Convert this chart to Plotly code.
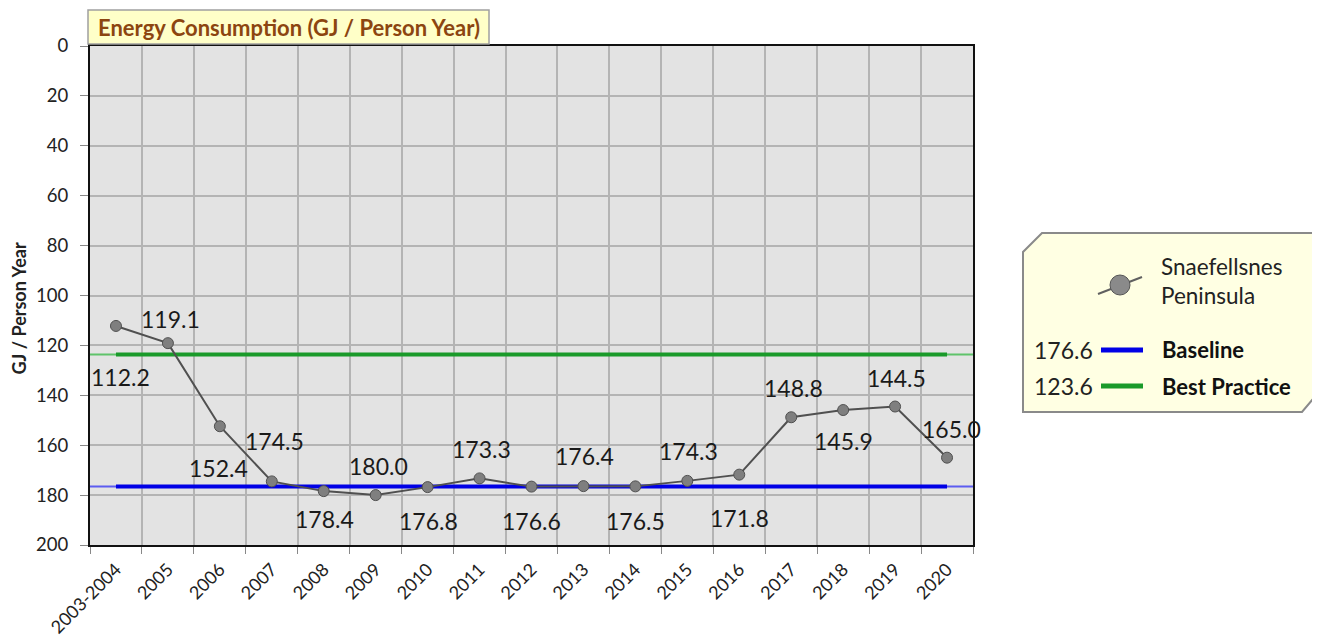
import plotly.graph_objects as go

# ━━━ DATA ━━━━━━━━━━━━━━━━━━━━━━━━━━━━━━━━━━━━━━━━━━━━━━━━━━━━

YEARS = [
    "2003-2004", "2005", "2006", "2007", "2008", "2009", "2010", "2011",
    "2012", "2013", "2014", "2015", "2016", "2017", "2018", "2019", "2020",
]
CONSUMPTION = [
    112.2, 119.1, 152.4, 174.5, 178.4, 180.0, 176.8, 173.3,
    176.6, 176.4, 176.5, 174.3, 171.8, 148.8, 145.9, 144.5, 165.0,
]
BASELINE = 176.6
BEST_PRACTICE = 123.6
Y_TICKS = [0, 20, 40, 60, 80, 100, 120, 140, 160, 180, 200]

# label offsets (px) for the data labels, style only
LABEL_DY = [-51, 24, -42, 40, -28, 29, -34, 29, -34, 30, -35, 30, -43, 29, -31, 29, 29]
LABEL_DX = [5, 3, -1, 3, 1, 3, 1, 2, 0, 1, 0, 1, 0, 2, 0, 1, 4]

FONT = "Lato"
BLUE = "#0000e6"
GREEN = "#1a9a2a"

# page body has an 8px margin; the figure is sized so the plot lands at
# screen pixels L..R, T..B
OFF = 8
W, H = 1320 - OFF, 639 - OFF
L, R, T, B = 90, 973, 46, 545


def px(x):
    return (x - L) / (R - L)


def py(y):
    return (B - y) / (B - T)


fig = go.Figure()

# thin full-width reference lines
for val, col in [(BEST_PRACTICE, "#5fc36a"), (BASELINE, "#5c5cf0")]:
    fig.add_shape(type="line", xref="paper", x0=0, x1=1, yref="y", y0=val, y1=val,
                  line=dict(color=col, width=2), layer="below")

# heavier reference lines across the data span
for val, col in [(BEST_PRACTICE, GREEN), (BASELINE, BLUE)]:
    fig.add_trace(go.Scatter(
        x=[YEARS[0], YEARS[-1]], y=[val, val],
        mode="lines", line=dict(color=col, width=4), showlegend=False, hoverinfo="skip",
    ))

fig.add_trace(go.Scatter(
    x=YEARS, y=CONSUMPTION, mode="lines+markers",
    line=dict(color="#505050", width=2),
    marker=dict(size=11, color="#7f7f7f", line=dict(color="#505050", width=1)),
    showlegend=False,
))

for i, (v, dy, dx) in enumerate(zip(CONSUMPTION, LABEL_DY, LABEL_DX)):
    fig.add_annotation(x=i, y=v, text=f"{v:.1f}", showarrow=False,
                       xanchor="center", yanchor="middle",
                       yshift=dy, xshift=dx, font=dict(family=FONT, size=23, color="#1a1a1a"))

# ━━━ TITLE BOX ━━━━━━━━━━━━━━━━━━━━━━━━━━━━━━━━━━━━━━━━━━━━━━━━

fig.add_shape(type="rect", xref="paper", yref="paper",
              x0=px(88), x1=px(489), y0=py(44), y1=py(10),
              fillcolor="#ffffc8", line=dict(color="#a0a0a0", width=1.5))
fig.add_annotation(xref="paper", yref="paper", x=px(289), y=py(28),
                   xanchor="center", yanchor="middle",
                   text="<b>Energy Consumption (GJ / Person Year)</b>", showarrow=False,
                   font=dict(family=FONT, size=22, color="#8c4510"))

# y axis title, placed by hand
fig.add_annotation(xref="paper", yref="paper", x=px(18.5), y=py(309),
                   xanchor="center", yanchor="middle", textangle=-90,
                   text="<b>GJ / Person Year</b>", showarrow=False,
                   font=dict(family=FONT, size=18, color="#222222"))

# ━━━ LEGEND ━━━━━━━━━━━━━━━━━━━━━━━━━━━━━━━━━━━━━━━━━━━━━━━━━━━

pts = [(1042, 233), (1318, 233), (1318, 393), (1302, 412), (1023, 412), (1023, 252)]
path = "M " + " L ".join(f"{px(a)},{py(b)}" for a, b in pts) + " Z"
fig.add_shape(type="path", xref="paper", yref="paper", path=path,
              fillcolor="#ffffe3", line=dict(color="#8a8a8a", width=2))

fig.add_shape(type="line", xref="paper", yref="paper",
              x0=px(1098), y0=py(294), x1=px(1142), y1=py(277),
              line=dict(color="#606060", width=2))
fig.add_shape(type="circle", xref="paper", yref="paper",
              x0=px(1110), x1=px(1130), y0=py(295), y1=py(275),
              fillcolor="#8a8a8a", line=dict(color="#555555", width=1))
fig.add_annotation(xref="paper", yref="paper", x=px(1159), y=py(281),
                   xanchor="left", yanchor="middle",
                   text="Snaefellsnes<br>Peninsula", showarrow=False, align="left",
                   font=dict(family=FONT, size=22.5, color="#222222"))

for yy, val, col, name in [(350, BASELINE, BLUE, "Baseline"),
                           (386, BEST_PRACTICE, GREEN, "Best Practice")]:
    fig.add_annotation(xref="paper", yref="paper", x=px(1095), y=py(yy),
                       xanchor="right", yanchor="middle",
                       text=f"{val:.1f}", showarrow=False,
                       font=dict(family=FONT, size=23, color="#222222"))
    fig.add_shape(type="line", xref="paper", yref="paper",
                  x0=px(1101), x1=px(1143), y0=py(yy), y1=py(yy),
                  line=dict(color=col, width=5))
    fig.add_annotation(xref="paper", yref="paper", x=px(1160), y=py(yy),
                       xanchor="left", yanchor="middle",
                       text=f"<b>{name}</b>", showarrow=False,
                       font=dict(family=FONT, size=22, color="#111111"))

# ━━━ LAYOUT ━━━━━━━━━━━━━━━━━━━━━━━━━━━━━━━━━━━━━━━━━━━━━━━━━━━

fig.update_layout(
    width=W, height=H,
    margin=dict(l=L - OFF, r=W - (R - OFF), t=T - OFF, b=H - (B - OFF)),
    paper_bgcolor="white", plot_bgcolor="#e3e3e3",
    font=dict(family=FONT, size=18, color="#222222"),
    xaxis=dict(
        type="category", categoryorder="array", categoryarray=YEARS,
        tickson="boundaries", tickangle=-45, automargin=False,
        showgrid=True, gridcolor="#b4b4b4", gridwidth=1.5,
        ticks="outside", ticklen=7, tickcolor="#888888",
        showline=True, linecolor="#111111", linewidth=2, mirror=True,
        tickfont=dict(size=18), ticklabelstandoff=5,
        range=[-0.5, len(YEARS) - 0.5],
    ),
    yaxis=dict(
        range=[200, 0], tickvals=Y_TICKS, automargin=False,
        showgrid=True, gridcolor="#b4b4b4", gridwidth=1.5, zeroline=False,
        ticks="outside", ticklen=8, tickcolor="#888888",
        showline=True, linecolor="#111111", linewidth=2, mirror=True,
        tickfont=dict(size=18.5), ticklabelstandoff=8,
    ),
)

fig.write_html("out.html")
